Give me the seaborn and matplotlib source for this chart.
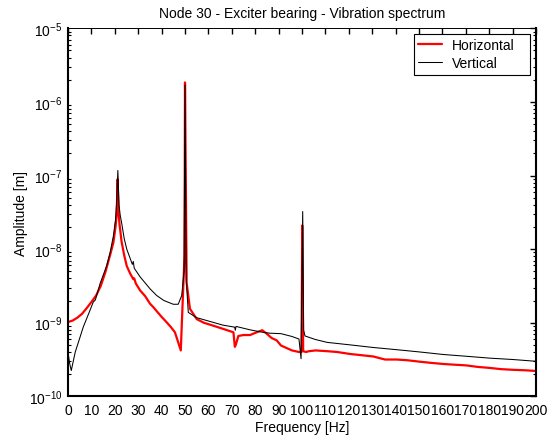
import numpy as np
import pandas as pd
import matplotlib
matplotlib.use("Agg")
import matplotlib.pyplot as plt
import seaborn as sns
from matplotlib.ticker import LogLocator, FixedLocator, NullFormatter

# ---------------- data ----------------
title = "Node 30 - Exciter bearing - Vibration spectrum"
x_label = "Frequency [Hz]"
y_label = "Amplitude [m]"
series_names = ["Horizontal", "Vertical"]

horiz_freq = [0, 2, 4, 6, 8, 10, 12, 14, 16, 18, 19.4, 20.3, 20.8, 21.2, 21.6, 22.0,
              22.9, 24, 25.1, 26.5, 27.9, 28.3, 29, 30.8, 33, 35, 36.5, 40, 42.2, 44,
              45.7, 47.1, 48.2, 49.0, 49.8, 50.0, 50.7, 52.1, 55, 58, 62.1, 66, 70.7,
              71.3, 71.7, 72.8, 75, 77.8, 80.6, 83, 84.9, 87, 89.2, 91, 95.7, 98.7,
              99.8, 100.1, 100.5, 101.7, 103, 105.8, 110.8, 115, 120.5, 125, 130.6,
              133, 135.5, 140.4, 145, 150.4, 155, 160.3, 165, 170.2, 175, 180.2,
              185, 190.2, 195, 200]
horiz_amp = [1.02e-9, 1.07e-9, 1.17e-9, 1.32e-9, 1.58e-9, 1.91e-9, 2.34e-9, 3.16e-9,
             4.90e-9, 8.32e-9, 1.23e-8, 2.0e-8, 2.9e-8, 8.9e-8, 3.2e-8, 2.2e-8,
             1.26e-8, 8.3e-9, 5.9e-9, 4.7e-9, 3.9e-9, 4.0e-9, 3.4e-9, 2.75e-9,
             2.29e-9, 1.82e-9, 1.62e-9, 1.20e-9, 1.01e-9, 8.7e-10, 7.4e-10, 5.4e-10,
             4.2e-10, 1.9e-9, 8.1e-9, 1.84e-6, 3.5e-9, 1.55e-9, 1.12e-9, 1.0e-9,
             9.1e-10, 8.3e-10, 7.4e-10, 4.7e-10, 5.0e-10, 6.6e-10, 6.8e-10, 6.8e-10,
             7.4e-10, 7.9e-10, 7.1e-10, 6.2e-10, 5.75e-10, 4.9e-10, 4.2e-10, 4.0e-10,
             4.0e-10, 2.1e-8, 4.1e-10, 4.0e-10, 4.1e-10, 4.2e-10, 4.1e-10, 4.0e-10,
             3.76e-10, 3.63e-10, 3.47e-10, 3.31e-10, 3.16e-10, 3.16e-10, 3.09e-10,
             2.95e-10, 2.85e-10, 2.75e-10, 2.69e-10, 2.63e-10, 2.51e-10, 2.43e-10,
             2.34e-10, 2.29e-10, 2.26e-10, 2.21e-10]

vert_freq = [0, 0.7, 1.4, 3.1, 5.1, 6.5, 8.8, 10.8, 11.7, 13.7, 16.5, 18, 19.4, 20.3,
             20.8, 21.3, 21.8, 22.3, 22.9, 24, 25.1, 27.5, 27.9, 28.3, 30.8, 35, 37.9,
             41, 45, 47.1, 48.6, 49.6, 50.0, 50.5, 51.4, 55, 62.1, 66, 71.2, 71.5,
             71.8, 77.8, 83.3, 86.3, 91, 95.7, 98.7, 99.6, 100.3, 100.7, 101.3, 105.8,
             110.8, 120.5, 130.6, 140.4, 150.4, 160.3, 170.2, 180.2, 190.2, 200]
vert_amp = [4.0e-10, 2.8e-10, 2.24e-10, 4.0e-10, 6.3e-10, 8.7e-10, 1.32e-9, 1.91e-9,
            2.04e-9, 3.4e-9, 5.9e-9, 9.0e-9, 1.51e-8, 2.5e-8, 4.4e-8, 1.17e-7,
            4.0e-8, 2.9e-8, 2.29e-8, 1.4e-8, 1.0e-8, 6.2e-9, 6.8e-9, 5.5e-9, 4.2e-9,
            2.9e-9, 2.34e-9, 2.0e-9, 1.78e-9, 1.78e-9, 2.34e-9, 5.0e-9, 1.70e-6,
            4.0e-9, 1.38e-9, 1.17e-9, 1.01e-9, 9.3e-10, 8.7e-10, 7.9e-10, 8.9e-10,
            8.0e-10, 7.4e-10, 7.2e-10, 7.1e-10, 6.5e-10, 6.0e-10, 3.24e-10, 3.24e-8,
            7.9e-10, 6.6e-10, 5.9e-10, 5.4e-10, 5.0e-10, 4.6e-10, 4.3e-10, 4.0e-10,
            3.7e-10, 3.5e-10, 3.3e-10, 3.16e-10, 2.99e-10]

x_ticks = list(range(0, 201, 10))
x_tick_labels = [str(t) for t in x_ticks]
y_ticks = [1e-10, 1e-9, 1e-8, 1e-7, 1e-6, 1e-5]
y_tick_labels = [r"$\mathregular{10^{-10}}$", r"$\mathregular{10^{-9}}$",
                 r"$\mathregular{10^{-8}}$", r"$\mathregular{10^{-7}}$",
                 r"$\mathregular{10^{-6}}$", r"$\mathregular{10^{-5}}$"]

# ---------------- style ----------------
sns.set_theme(style="white")
plt.rcParams["font.family"] = ["Liberation Sans", "DejaVu Sans"]
plt.rcParams["mathtext.default"] = "regular"
plt.rcParams["font.size"] = 10
plt.rcParams["text.color"] = "black"
plt.rcParams["axes.labelcolor"] = "black"
plt.rcParams["xtick.color"] = "black"
plt.rcParams["ytick.color"] = "black"

df_h = pd.DataFrame({"freq": horiz_freq, "amp": horiz_amp})
df_v = pd.DataFrame({"freq": vert_freq, "amp": vert_amp})

W, H = 556, 439
L, R, T, B = 68, 536, 29.3, 397.3
fig = plt.figure(figsize=(W / 100, H / 100), dpi=100)
ax = fig.add_axes([L / W, 1 - B / H, (R - L) / W, (B - T) / H])

sns.lineplot(data=df_h, x="freq", y="amp", ax=ax, color="#ff0000", linewidth=1.6,
             label=series_names[0], estimator=None, sort=False)
sns.lineplot(data=df_v, x="freq", y="amp", ax=ax, color="black", linewidth=0.75,
             label=series_names[1], estimator=None, sort=False)

ax.set_yscale("log")
ax.set_xlim(0, 200)
ax.set_ylim(1e-10, 1e-5)
ax.set_xticks(x_ticks)
ax.set_xticklabels(x_tick_labels)
ax.yaxis.set_major_locator(FixedLocator(y_ticks))
ax.set_yticklabels(y_tick_labels)
ax.yaxis.set_minor_locator(LogLocator(base=10, subs=np.arange(2, 10), numticks=20))
ax.yaxis.set_minor_formatter(NullFormatter())

ax.tick_params(axis="both", which="major", direction="in", length=4, width=1,
               top=True, right=True, labelsize=10, pad=4, colors="black")
ax.tick_params(axis="y", which="minor", direction="in", length=2, width=0.8,
               left=True, right=True)
ax.tick_params(axis="x", which="major", pad=5)

for side in ["left", "bottom", "right"]:
    ax.spines[side].set_linewidth(1.5)
    ax.spines[side].set_color("black")
ax.spines["top"].set_linewidth(0.7)
ax.spines["top"].set_color("black")

ax.set_title(title, fontsize=10, pad=8)
ax.set_xlabel(x_label, fontsize=10, labelpad=2)
ax.set_ylabel(y_label, fontsize=10)
ax.yaxis.set_label_coords((28 - L) / (R - L), 0.5)

# legend box: x 414..530, top at y=35 (pixels)
lx0 = (414 - L) / (R - L)
lw = (530 - 414) / (R - L)
ltop = (B - 35) / (B - T)
leg = ax.legend(loc="upper left", bbox_to_anchor=(lx0, 0.0, lw, ltop), mode="expand",
                fontsize=10, frameon=True, fancybox=False, framealpha=1,
                edgecolor="black", borderaxespad=0.0, handlelength=1.75,
                labelspacing=0.3, borderpad=0.3, handletextpad=0.65)
leg.get_frame().set_linewidth(0.8)

fig.savefig("out.png", dpi=100)
